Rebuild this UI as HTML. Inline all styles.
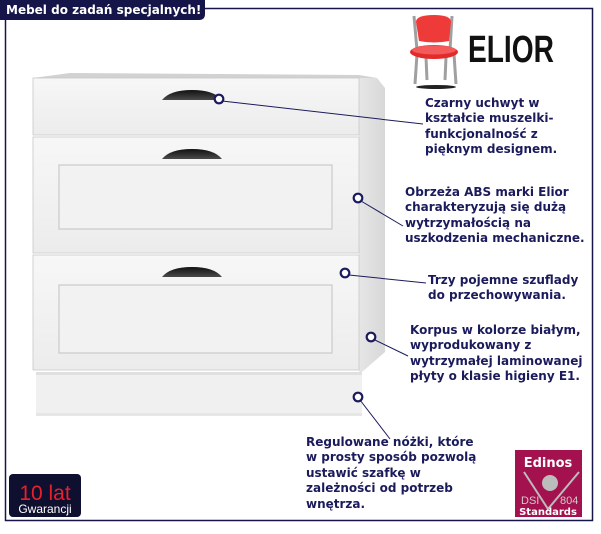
<!DOCTYPE html>
<html><head><meta charset="utf-8">
<style>
html,body{margin:0;padding:0;background:#fff;}
body{width:601px;height:534px;position:relative;overflow:hidden;font-family:"DejaVu Sans","Liberation Sans",sans-serif;}
.t{position:absolute;color:#1b1b5c;font-weight:bold;font-size:12px;line-height:15.4px;white-space:nowrap;}
</style></head><body>
<svg width="601" height="534" style="position:absolute;left:0;top:0">
<defs>
<linearGradient id="fr" x1="0" y1="0" x2="0" y2="1"><stop offset="0" stop-color="#f7f7f7"/><stop offset="1" stop-color="#ececec"/></linearGradient>
<linearGradient id="sd" x1="0" y1="0" x2="1" y2="0"><stop offset="0" stop-color="#e6e6e6"/><stop offset="1" stop-color="#d8d8d8"/></linearGradient>
<linearGradient id="hd" x1="0" y1="0" x2="0" y2="1"><stop offset="0" stop-color="#111"/><stop offset="1" stop-color="#4a4a4a"/></linearGradient>
</defs>
<rect x="5.5" y="8.5" width="587" height="512" fill="none" stroke="#15154a" stroke-width="1.5"/>
<path d="M0 0 H205 V14 Q205 20 199 20 H0 Z" fill="#15154a"/>
<path d="M33 78 L70 73 L359 75 L377 78 Z" fill="#d2d2d2"/>
<path d="M359 78 L377 78 L385 88 L385 352 L362 372 L359 372 Z" fill="url(#sd)"/>
<rect x="36" y="372" width="326" height="44" fill="#f0f0f0"/>
<rect x="36" y="372" width="326" height="3" fill="#e0e0e0"/>
<rect x="36" y="413" width="326" height="3" fill="#e6e6e6"/>
<rect x="33" y="78" width="326" height="57" fill="url(#fr)" stroke="#c8c8c8" stroke-width="0.8"/>
<rect x="33" y="137" width="326" height="116" fill="url(#fr)" stroke="#c8c8c8" stroke-width="0.8"/>
<rect x="59" y="165" width="273" height="64" fill="#f2f2f2" stroke="#cacaca" stroke-width="1.2"/>
<rect x="33" y="255" width="326" height="115" fill="url(#fr)" stroke="#c8c8c8" stroke-width="0.8"/>
<rect x="59" y="285" width="273" height="68" fill="#f2f2f2" stroke="#cacaca" stroke-width="1.2"/>
<path d="M162 100 Q170 90 192 90 Q214 90 222 100 Z" fill="url(#hd)"/>
<path d="M162 159 Q170 149 192 149 Q214 149 222 159 Z" fill="url(#hd)"/>
<path d="M162 277 Q170 267 192 267 Q214 267 222 277 Z" fill="url(#hd)"/>
<g stroke="#1b1b5c" stroke-width="1" fill="none">
<line x1="222" y1="101" x2="423" y2="124"/>
<line x1="361" y1="201" x2="403" y2="226"/>
<line x1="349" y1="275" x2="426" y2="283"/>
<line x1="375" y1="340" x2="408" y2="356"/>
<line x1="360" y1="400" x2="390" y2="439"/>
</g>
<g stroke="#1b1b5c" stroke-width="2.2" fill="#fff">
<circle cx="219" cy="99" r="4.3"/>
<circle cx="358" cy="198" r="4.3"/>
<circle cx="345" cy="273" r="4.3"/>
<circle cx="371" cy="337" r="4.3"/>
<circle cx="358" cy="397" r="4.3"/>
</g>
<!-- chair -->
<g>
<ellipse cx="436" cy="87" rx="20" ry="2" fill="#222"/>
<path d="M414 16 L417 50 M452 16 L450 50" stroke="#a0a0a0" stroke-width="3" fill="none"/>
<path d="M417 54 L415 84 M426 57 L427 80 M446 57 L445 80 M454 54 L456 84" stroke="#a0a0a0" stroke-width="3" fill="none"/>
<path d="M416 22 Q416 15 434 15 Q451 15 451 22 L449 41 Q434 44 419 41 Z" fill="#ef3a3a"/>
<ellipse cx="434" cy="52" rx="24" ry="7" fill="#e12a2a"/>
<ellipse cx="434" cy="50" rx="22" ry="4.5" fill="#f55a5a"/>
</g>
<text x="0" y="62" font-family="Liberation Sans Narrow, Liberation Sans, sans-serif" font-weight="bold" font-size="38" fill="#111" transform="translate(468 0) scale(0.74 1)">ELIOR</text>
<rect x="9" y="474" width="72" height="43" rx="4" fill="#0f0f30"/>
<text x="45" y="500" text-anchor="middle" font-family="Liberation Sans, sans-serif" font-size="21" fill="#e8202a">10 lat</text>
<text x="45" y="513" text-anchor="middle" font-family="Liberation Sans, sans-serif" font-size="12" fill="#fff">Gwarancji</text>
<rect x="515" y="450" width="67" height="67" fill="#a3124f"/>
<text x="548" y="467" text-anchor="middle" font-family="DejaVu Sans, sans-serif" font-size="13" font-weight="bold" fill="#fff">Edinos</text>
<path d="M524 472 L548 509 L579 472" stroke="#bcbcbc" stroke-width="2" fill="none"/>
<circle cx="550" cy="483" r="8" fill="#bcbcbc"/>
<text x="521" y="504" font-family="Liberation Sans, sans-serif" font-size="11" fill="#ccc">DSI</text>
<text x="560" y="504" font-family="Liberation Sans, sans-serif" font-size="11" fill="#ccc">804</text>
<text x="548" y="515" text-anchor="middle" font-family="DejaVu Sans, sans-serif" font-size="10" font-weight="bold" fill="#fff">Standards</text>
</svg>
<div style="position:absolute;left:6px;top:3px;color:#fff;font-weight:bold;font-size:12px;font-family:'DejaVu Sans',sans-serif;">Mebel do zadań specjalnych!</div>
<div class="t" style="left:425px;top:96px">Czarny uchwyt w<br>kształcie muszelki-<br>funkcjonalność z<br>pięknym designem.</div>
<div class="t" style="left:405px;top:185px">Obrzeża ABS marki Elior<br>charakteryzują się dużą<br>wytrzymałością na<br>uszkodzenia mechaniczne.</div>
<div class="t" style="left:428px;top:273px">Trzy pojemne szuflady<br>do przechowywania.</div>
<div class="t" style="left:410px;top:323px">Korpus w kolorze białym,<br>wyprodukowany z<br>wytrzymałej laminowanej<br>płyty o klasie higieny E1.</div>
<div class="t" style="left:306px;top:435px">Regulowane nóżki, które<br>w prosty sposób pozwolą<br>ustawić szafkę w<br>zależności od potrzeb<br>wnętrza.</div>
</body></html>
